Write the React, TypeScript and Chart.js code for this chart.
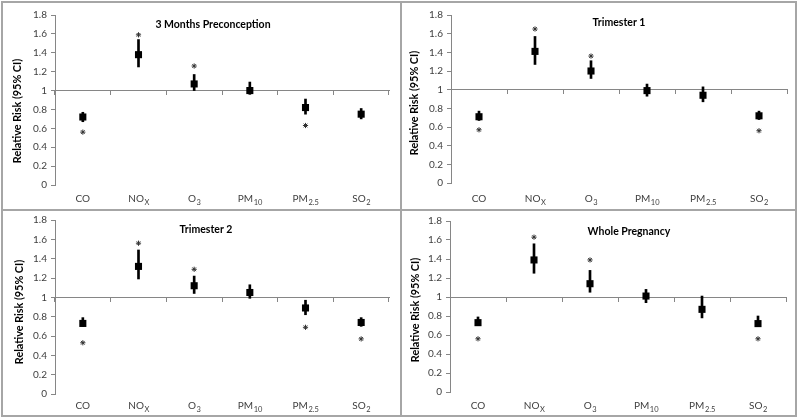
import React, { useEffect, useRef } from 'react';
import { Chart, registerables } from 'chart.js';

Chart.register(...registerables);

// ---------- data ----------
const categories = ['CO', 'NOx', 'O3', 'PM10', 'PM2.5', 'SO2'];
const labelMain = ['CO', 'NO', 'O', 'PM', 'PM', 'SO'];
const labelSub = ['', 'X', '3', '10', '2.5', '2'];

const yAxisTitle = 'Relative Risk (95% CI)';
const yMin = 0;
const yMax = 1.8;
const yStep = 0.2;

const panelTitles = ['3 Months Preconception', 'Trimester 1', 'Trimester 2', 'Whole Pregnancy'];

// 3 Months Preconception
const rrPre = [0.72, 1.38, 1.07, 1.0, 0.82, 0.75];
const loPre = [0.67, 1.25, 1.0, 0.96, 0.75, 0.7];
const hiPre = [0.77, 1.54, 1.17, 1.09, 0.91, 0.81];
const starPre = [0.56, 1.59, 1.26, null, 0.63, null];

// Trimester 1
const rrT1 = [0.71, 1.41, 1.2, 0.99, 0.94, 0.72];
const loT1 = [0.67, 1.27, 1.12, 0.93, 0.87, 0.68];
const hiT1 = [0.77, 1.57, 1.31, 1.06, 1.03, 0.77];
const starT1 = [0.57, 1.65, 1.36, null, null, 0.56];

// Trimester 2
const rrT2 = [0.73, 1.32, 1.12, 1.05, 0.89, 0.74];
const loT2 = [0.7, 1.19, 1.04, 0.99, 0.82, 0.7];
const hiT2 = [0.79, 1.49, 1.22, 1.13, 0.97, 0.79];
const starT2 = [0.53, 1.56, 1.29, null, 0.69, 0.57];

// Whole Pregnancy
const rrWP = [0.73, 1.39, 1.14, 1.01, 0.87, 0.72];
const loWP = [0.7, 1.25, 1.05, 0.94, 0.78, 0.69];
const hiWP = [0.79, 1.56, 1.28, 1.08, 1.01, 0.8];
const starWP = [0.56, 1.63, 1.39, null, null, 0.56];

const panelData = [
  { rr: rrPre, lo: loPre, hi: hiPre, star: starPre },
  { rr: rrT1, lo: loT1, hi: hiT1, star: starT1 },
  { rr: rrT2, lo: loT2, hi: hiT2, star: starT2 },
  { rr: rrWP, lo: loWP, hi: hiWP, star: starWP },
];

// ---------- layout (positions only) ----------
const layouts = [
  { x: 0, y: 0, w: 400, h: 209, left: 55, padRight: 11, padTop: 15, padBottom: 24, titleX: 213, titleY: 25, yTitleX: 18, yTitleY: 111, labelY: 198 },
  { x: 400, y: 0, w: 400, h: 209, left: 51, padRight: 13, padTop: 15, padBottom: 26, titleX: 219, titleY: 23, yTitleX: 15, yTitleY: 103, labelY: 198 },
  { x: 0, y: 210, w: 400, h: 209, left: 55, padRight: 11, padTop: 10, padBottom: 25, titleX: 206, titleY: 20, yTitleX: 20, yTitleY: 102, labelY: 195 },
  { x: 400, y: 210, w: 400, h: 209, left: 50, padRight: 14, padTop: 11, padBottom: 27, titleX: 229, titleY: 22, yTitleX: 16, yTitleY: 100, labelY: 195 },
];

const FONT = 'Lato, "Open Sans", sans-serif';
const AXIS_COLOR = '#868686';
const LABEL_COLOR = '#404040';

function makeTextPlugin(idx: number) {
  const L = layouts[idx];
  return {
    id: 'panelText' + idx,
    afterDraw(chart: any) {
      const { ctx } = chart;
      const xScale = chart.scales.x;
      ctx.save();
      // chart title
      ctx.fillStyle = '#000';
      ctx.font = `bold 10.5px ${FONT}`;
      ctx.textAlign = 'center';
      ctx.textBaseline = 'middle';
      ctx.fillText(panelTitles[idx], L.titleX, L.titleY);
      // y axis title
      ctx.save();
      ctx.translate(L.yTitleX, L.yTitleY);
      ctx.rotate(-Math.PI / 2);
      ctx.font = `bold 10.8px ${FONT}`;
      ctx.fillText(yAxisTitle, 0, 0);
      ctx.restore();
      // category labels with subscripts
      ctx.fillStyle = LABEL_COLOR;
      ctx.textAlign = 'left';
      ctx.textBaseline = 'alphabetic';
      const mainFont = `10px ${FONT}`;
      const subFont = `7.5px ${FONT}`;
      categories.forEach((_, i) => {
        const cx = xScale.getPixelForValue(i);
        ctx.font = mainFont;
        const wm = ctx.measureText(labelMain[i]).width;
        ctx.font = subFont;
        const ws = labelSub[i] ? ctx.measureText(labelSub[i]).width : 0;
        const start = cx - (wm + ws) / 2;
        ctx.font = mainFont;
        ctx.fillText(labelMain[i], start, L.labelY + 3.5);
        if (labelSub[i]) {
          ctx.font = subFont;
          ctx.fillText(labelSub[i], start + wm + 0.5, L.labelY + 6.5);
        }
      });
      ctx.restore();
    },
  };
}

function buildChart(canvas: HTMLCanvasElement, idx: number) {
  const L = layouts[idx];
  const d = panelData[idx];
  return new Chart(canvas, {
    type: 'bar',
    data: {
      labels: categories,
      datasets: [
        {
          type: 'line',
          label: 'Relative risk',
          data: d.rr,
          showLine: false,
          pointStyle: 'rect',
          pointRadius: 5,
          pointBackgroundColor: '#000',
          pointBorderColor: '#000',
          pointBorderWidth: 0,
          order: 0,
        } as any,
        {
          type: 'line',
          label: 'Significant',
          data: d.star,
          showLine: false,
          pointStyle: 'star',
          pointRadius: 2.6,
          pointBorderColor: '#333',
          pointBackgroundColor: '#333',
          pointBorderWidth: 1,
          order: 1,
        } as any,
        {
          type: 'bar',
          label: '95% CI',
          data: d.lo.map((l, i) => [l, d.hi[i]]),
          backgroundColor: '#000',
          borderWidth: 0,
          barThickness: 2,
          order: 2,
        } as any,
      ],
    },
    options: {
      responsive: false,
      animation: false,
      devicePixelRatio: 1,
      layout: {
        padding: { left: 0, right: L.padRight, top: L.padTop, bottom: L.padBottom },
      },
      plugins: {
        legend: { display: false },
        tooltip: { enabled: false },
        title: { display: false },
      },
      scales: {
        x: {
          type: 'category',
          position: { y: 1 } as any,
          offset: true,
          grid: {
            offset: true,
            drawOnChartArea: false,
            drawTicks: true,
            tickLength: 4,
            color: AXIS_COLOR,
          },
          border: { color: AXIS_COLOR, width: 1 },
          ticks: { display: false },
        },
        y: {
          type: 'linear',
          min: yMin,
          max: yMax,
          afterFit: (scale: any) => {
            scale.width = L.left;
          },
          grid: {
            drawOnChartArea: false,
            drawTicks: true,
            tickLength: 4,
            color: AXIS_COLOR,
          },
          border: { color: AXIS_COLOR, width: 1 },
          ticks: {
            stepSize: yStep,
            padding: 4,
            color: LABEL_COLOR,
            font: { family: FONT, size: 10 },
            callback: (v: any) => String(parseFloat(Number(v).toFixed(1))),
          },
        },
      },
    },
    plugins: [makeTextPlugin(idx)],
  } as any);
}

export default function App() {
  const refs = [
    useRef<HTMLCanvasElement>(null),
    useRef<HTMLCanvasElement>(null),
    useRef<HTMLCanvasElement>(null),
    useRef<HTMLCanvasElement>(null),
  ];

  useEffect(() => {
    const charts = refs.map((r, i) => (r.current ? buildChart(r.current, i) : null));
    return () => {
      charts.forEach((c) => c && c.destroy());
    };
  }, []);

  return (
    <div style={{ position: 'absolute', left: 0, top: 0, width: 800, height: 419, background: '#fff', overflow: 'hidden' }}>
      {layouts.map((L, i) => (
        <canvas
          key={i}
          ref={refs[i]}
          width={L.w}
          height={L.h}
          style={{ position: 'absolute', left: L.x, top: L.y, width: L.w, height: L.h }}
        />
      ))}
      <div style={{ position: 'absolute', left: 1, top: 1, width: 796, height: 416, border: '2px solid #a6a6a6', boxSizing: 'border-box', pointerEvents: 'none' }} />
      <div style={{ position: 'absolute', left: 400, top: 1, width: 2, height: 416, background: '#a6a6a6' }} />
      <div style={{ position: 'absolute', left: 1, top: 209, width: 796, height: 2, background: '#a6a6a6' }} />
    </div>
  );
}
